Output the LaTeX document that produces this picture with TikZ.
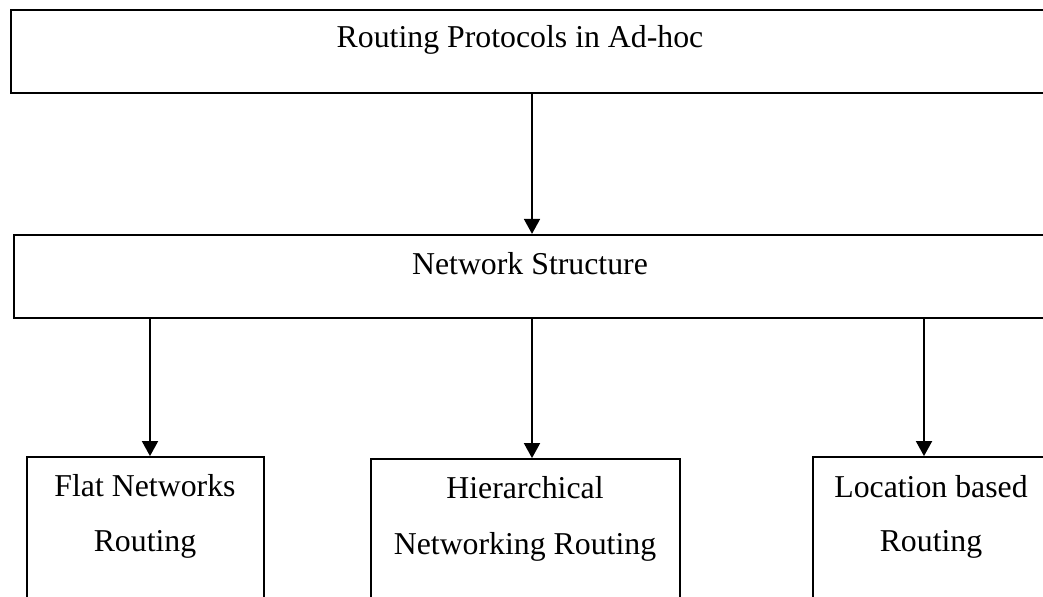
\documentclass[tikz,border=0pt]{standalone}
\usepackage{fontspec}
\setmainfont{Liberation Serif}
\usetikzlibrary{arrows.meta,fit}
\begin{document}
\begin{tikzpicture}[x=0.5pt,y=-0.5pt,
 box/.style={draw,line width=1.1pt,inner sep=0pt},
 sbox/.style={draw,line width=0.9pt,inner sep=0pt},
 lbl/.style={anchor=base,inner sep=0pt,font=\fontsize{15.9}{19}\selectfont},
 arr/.style={line width=0.9pt,-{Triangle[length=7.5pt,width=8pt]}}]
\useasboundingbox (0,0) rectangle (1043,597);
\clip (0,0) rectangle (1043,597);
% boxes
\node[box, fit={(11,10) (1070,93)}] (top) {};
\node[box, fit={(14,235) (1070,318)}] (net) {};
\node[sbox, fit={(27,457) (264,640)}] (flat) {};
\node[sbox, fit={(371,459) (680,640)}] (hier) {};
\node[sbox, fit={(813,457) (1049,640)}] (loc) {};
% texts
\node[lbl] (ttop) at (520,48) {Routing Protocols in Ad-hoc};
\node[lbl] (tnet) at (530,275) {Network Structure};
\node[lbl] (tf1) at (145,497) {Flat Networks};
\node[lbl] (tf2) at (145,552) {Routing};
\node[lbl] (th1) at (525,499) {Hierarchical};
\node[lbl] (th2) at (525,555) {Networking Routing};
\node[lbl] (tl1) at (931,498) {Location based};
\node[lbl] (tl2) at (931,552) {Routing};
% connector x positions
\coordinate (xa) at (150,0);
\coordinate (xb) at (532,0);
\coordinate (xc) at (924,0);
% connectors
\draw[arr] (top.south -| xb) -- (net.north -| xb);
\draw[arr] (net.south -| xa) -- (flat.north -| xa);
\draw[arr] (net.south -| xb) -- (hier.north -| xb);
\draw[arr] (net.south -| xc) -- (loc.north -| xc);
\end{tikzpicture}
\end{document}
